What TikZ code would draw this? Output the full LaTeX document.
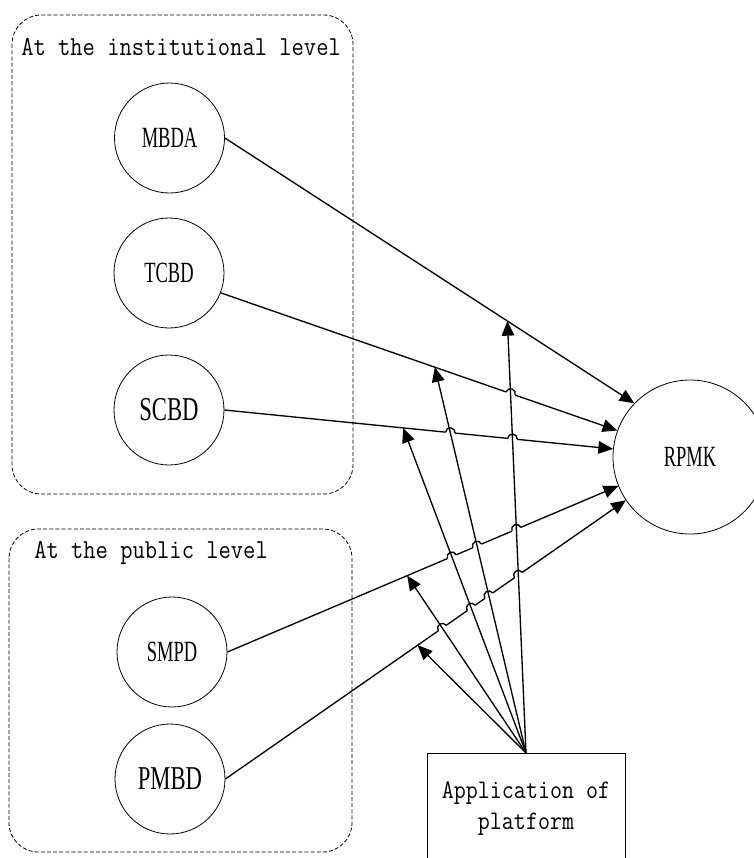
\documentclass[tikz,border=0pt]{standalone}
\usepackage{fontspec}
\usetikzlibrary{arrows.meta,calc}
\newfontfamily\serf{Liberation Serif}
\newcommand\mtxt[1]{\scalebox{1}[1.15]{#1}}
\newcommand\cn[1]{\scalebox{0.63}[1]{#1}}
\newcommand\cb[1]{\scalebox{0.68}[1]{#1}}
\newcommand\hoperase[3]{%
  \draw[white,line width=2.8pt] ($(#1)!3.6pt!(#2)$) -- ($(#1)!3.6pt!(#3)$);}
\newcommand\hoparc[3]{%
  \draw[line width=1pt] let \p1=($(#3)-(#2)$), \n1={atan2(\y1,\x1)} in
    ($(#1)!3.6pt!(#2)$) arc[start angle=\n1+180, end angle=\n1, radius=3.6pt];}
\begin{document}
\begin{tikzpicture}[x=0.75pt,y=0.75pt,
  grp/.style={draw,line width=0.6pt,dash pattern=on 3pt off 1.6pt,rounded corners=22pt},
  circ/.style={circle,draw,line width=0.6pt,minimum size=82.5pt,inner sep=0pt,
    font=\serf\fontsize{22}{26}\selectfont},
  bigc/.style={circ,font=\serf\fontsize{25}{30}\selectfont},
  lbl/.style={anchor=west,inner sep=0pt,font=\ttfamily\fontsize{17.9}{22}\selectfont},
  conn/.style={line width=1pt,-{Triangle[length=11pt,width=9.5pt]}},
  appbox/.style={draw,line width=0.6pt,minimum width=148.5pt,minimum height=83.25pt,
    inner sep=0pt,align=center,font=\ttfamily\fontsize{17.5}{23}\selectfont}]
\useasboundingbox (0,0) rectangle (754,-858);
\clip (0,0) rectangle (754,-858);
% groups
\draw[grp] (12,-15) rectangle (353,-494);
\draw[grp] (9,-529) rectangle (352,-852);
\node[lbl] (L1) at (21,-47) {\mtxt{At the institutional level}};
\node[lbl] (L2) at (34,-553) {\mtxt{At the public level}};
% nodes
\node[circ] (MBDA) at (169.5,-138) {\cn{MBDA}};
\node[circ] (TCBD) at (169,-273) {\cn{TCBD}};
\node[bigc] (SCBD) at (169,-410) {\cb{SCBD}};
\node[circ] (SMPD) at (172,-652) {\cn{SMPD}};
\node[bigc] (PMBD) at (170,-779) {\cb{PMBD}};
\node[circ,minimum size=115.5pt] (RPMK) at (690,-457) {\cn{RPMK}};
\node[appbox,anchor=north] (App) at (526,-753) {\mtxt{Application of}\\\mtxt{platform}};
% line end points
\coordinate (m1) at (MBDA.east);  \coordinate (m2) at (RPMK.136);
\coordinate (t1) at (TCBD.-21);   \coordinate (t2) at (RPMK.160);
\coordinate (s1) at (SCBD.east);  \coordinate (s2) at (RPMK.174);
\coordinate (sm1) at (SMPD.east); \coordinate (sm2) at (RPMK.202);
\coordinate (pm1) at (PMBD.east); \coordinate (pm2) at (RPMK.214);
\coordinate (S) at (App.north);
\coordinate (e1) at ($(m1)!0.69!(m2)$);
\coordinate (e2) at ($(t1)!0.54!(t2)$);
\coordinate (e3) at ($(s1)!0.46!(s2)$);
\coordinate (e4) at ($(sm1)!0.46!(sm2)$);
\coordinate (e5) at ($(pm1)!0.48!(pm2)$);
% hop points
\coordinate (h1) at (intersection of t1--t2 and S--e1);
\coordinate (h2) at (intersection of s1--s2 and S--e2);
\coordinate (h3) at (intersection of s1--s2 and S--e1);
\coordinate (h4) at (intersection of sm1--sm2 and S--e3);
\coordinate (h5) at (intersection of sm1--sm2 and S--e2);
\coordinate (h6) at (intersection of sm1--sm2 and S--e1);
\coordinate (h7) at (intersection of pm1--pm2 and S--e4);
\coordinate (h8) at (intersection of pm1--pm2 and S--e3);
\coordinate (h9) at (intersection of pm1--pm2 and S--e2);
\coordinate (h10) at (intersection of pm1--pm2 and S--e1);
% connectors to RPMK
\draw[conn] (m1) -- (m2);
\draw[conn] (t1) -- (t2);
\draw[conn] (s1) -- (s2);
\draw[conn] (sm1) -- (sm2);
\draw[conn] (pm1) -- (pm2);
% erase at hops
\hoperase{h1}{t1}{t2}
\hoperase{h2}{s1}{s2}
\hoperase{h3}{s1}{s2}
\hoperase{h4}{sm1}{sm2}
\hoperase{h5}{sm1}{sm2}
\hoperase{h6}{sm1}{sm2}
\hoperase{h7}{pm1}{pm2}
\hoperase{h8}{pm1}{pm2}
\hoperase{h9}{pm1}{pm2}
\hoperase{h10}{pm1}{pm2}
% platform arrows
\draw[conn] (S) -- (e1);
\draw[conn] (S) -- (e2);
\draw[conn] (S) -- (e3);
\draw[conn] (S) -- (e4);
\draw[conn] (S) -- (e5);
% hop arcs
\hoparc{h1}{t1}{t2}
\hoparc{h2}{s1}{s2}
\hoparc{h3}{s1}{s2}
\hoparc{h4}{sm1}{sm2}
\hoparc{h5}{sm1}{sm2}
\hoparc{h6}{sm1}{sm2}
\hoparc{h7}{pm1}{pm2}
\hoparc{h8}{pm1}{pm2}
\hoparc{h9}{pm1}{pm2}
\hoparc{h10}{pm1}{pm2}
\end{tikzpicture}
\end{document}
